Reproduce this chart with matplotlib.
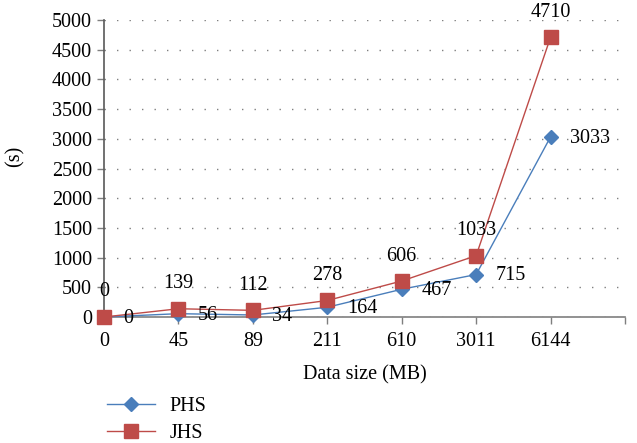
import matplotlib.pyplot as plt
import numpy as np

plt.rcParams['font.family'] = ['Liberation Serif', 'DejaVu Serif']

# Data
sizes = ["0", "45", "89", "211", "610", "3011", "6144"]
phs = [0, 56, 34, 164, 467, 715, 3033]
jhs = [0, 139, 112, 278, 606, 1033, 4710]

blue = "#4a7ebb"
red = "#be4b48"
axis_gray = "#7f7f7f"
fs = 14.5

fig = plt.figure(figsize=(6.37, 4.43), dpi=100)
ax = fig.add_axes([104 / 637, 1 - 317 / 443, 521 / 637, 297 / 443])

x = np.arange(len(sizes))
ax.plot(x, phs, color=blue, lw=1.0, marker="D", ms=7, label="PHS", zorder=3,
        clip_on=False)
ax.plot(x, jhs, color=red, lw=1.0, marker="s", ms=10.5, label="JHS", zorder=4,
        clip_on=False)

# value labels: JHS above, PHS to the right
for i, v in enumerate(jhs):
    ax.annotate(str(v), (x[i], v), xytext=(0, 18), textcoords="offset points",
                ha="center", va="center", fontsize=fs, zorder=5)
for i, v in enumerate(phs):
    ax.annotate(str(v), (x[i], v), xytext=(14, -1), textcoords="offset points",
                ha="left", va="center", fontsize=fs, zorder=5)

ax.set_xlim(0, 7)
ax.set_ylim(0, 5000)
ax.set_yticks(np.arange(0, 5001, 500))
ax.set_xticks(np.arange(0, 8))
ax.set_xticklabels(sizes + [""])

ax.yaxis.grid(True, color="#808080", lw=1.0, linestyle=(0, (1, 8)))
ax.set_axisbelow(True)

for s in ["top", "right"]:
    ax.spines[s].set_visible(False)
for s in ["left", "bottom"]:
    ax.spines[s].set_color(axis_gray)
    ax.spines[s].set_linewidth(1.2)
ax.spines["left"].set_color("#595959")

ax.tick_params(axis="both", direction="out", length=5, width=1, color=axis_gray,
               labelsize=fs)
ax.tick_params(axis="x", pad=6)

ax.set_xlabel("Data size (MB)", fontsize=fs, labelpad=10)
ax.set_ylabel("(s)", fontsize=fs)
ax.yaxis.set_label_coords(-0.152, 0.54)

ax.legend(loc="upper left", bbox_to_anchor=(107 / 637, 1 - 397 / 443),
          bbox_transform=fig.transFigure, frameon=False, fontsize=fs,
          handlelength=2.4, handletextpad=0.7, labelspacing=0.38,
          borderaxespad=0, borderpad=0)

plt.savefig("out.png", dpi=100)
